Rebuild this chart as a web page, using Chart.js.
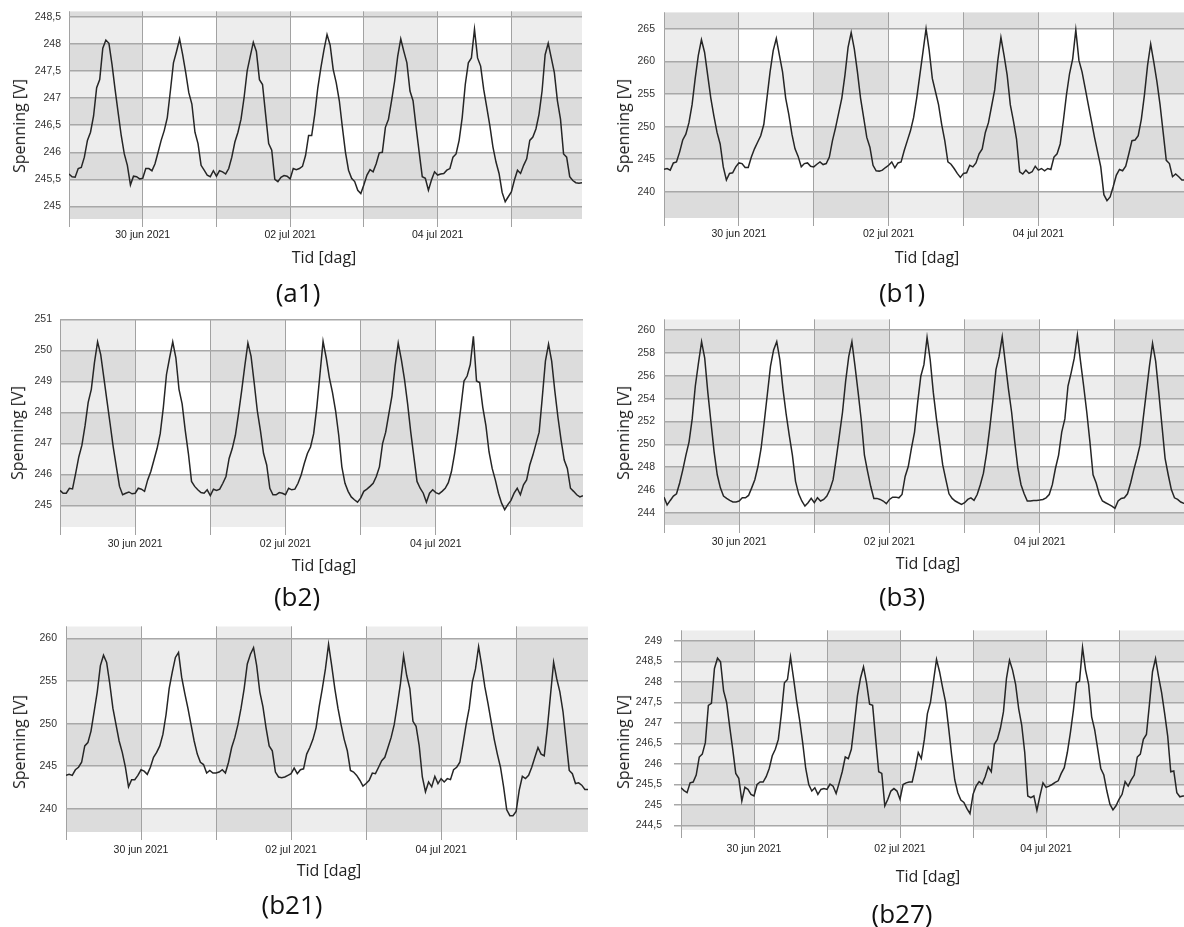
<!DOCTYPE html>
<html><head><meta charset="utf-8">
<script src="https://cdn.jsdelivr.net/npm/chart.js@4.4.1/dist/chart.umd.min.js"></script>
<style>
html,body{margin:0;padding:0;background:#fff;width:1184px;height:927px;overflow:hidden;position:relative}
canvas{position:absolute}
.t{position:absolute;font-family:"Open Sans",sans-serif;color:#222;white-space:nowrap;transform:translate(-50%,-50%);line-height:1}
.yt{transform:translate(-50%,-50%) rotate(-90deg)}
.pl{font-size:26px;color:#111}
.at{font-size:16px}
</style></head><body>
<script>
// x axis: hours since 29 jun 2021 00:00 (one reading per hour)
const hours = [];
for (let h = 0; h < 168; h++) hours.push(h);
const dayLabels = ['', '30 jun 2021', '', '02 jul 2021', '', '04 jul 2021', ''];
const yTitle = 'Spenning [V]';
const xTitle = 'Tid [dag]';
const panelNames = ['(a1)', '(b1)', '(b2)', '(b3)', '(b21)', '(b27)'];

const a1 = [245.60,245.55,245.54,245.70,245.72,245.91,246.22,246.37,246.67,247.19,247.34,247.92,248.07,248.01,247.62,247.16,246.73,246.31,245.97,245.76,245.40,245.56,245.55,245.51,
245.52,245.70,245.70,245.66,245.79,246.00,246.22,246.40,246.64,247.13,247.65,247.86,248.09,247.80,247.47,247.10,246.89,246.37,246.16,245.76,245.67,245.58,245.55,245.66,
245.56,245.66,245.64,245.60,245.70,245.91,246.19,246.37,246.61,247.01,247.50,247.77,248.03,247.86,247.34,247.25,246.70,246.16,246.04,245.50,245.46,245.54,245.57,245.56,
245.51,245.70,245.68,245.70,245.74,245.94,246.31,246.31,246.70,247.19,247.56,247.89,248.17,247.98,247.53,247.28,246.95,246.46,246.00,245.67,245.52,245.46,245.30,245.24,
245.40,245.58,245.68,245.64,245.79,245.99,246.00,246.46,246.61,246.95,247.31,247.77,248.09,247.86,247.65,247.13,246.95,246.46,246.00,245.55,245.52,245.30,245.49,245.64,
245.58,245.60,245.61,245.67,245.70,245.91,245.97,246.22,246.64,247.25,247.65,247.74,248.27,247.74,247.59,247.16,246.83,246.49,246.10,245.82,245.61,245.26,245.09,245.18,
245.27,245.49,245.67,245.61,245.76,245.88,246.22,246.28,246.43,246.70,247.13,247.80,248.01,247.74,247.47,246.95,246.61,245.97,245.91,245.55,245.48,245.44,245.43,245.44];

const b1 = [243.47,243.57,243.32,244.43,244.58,246.09,247.95,248.85,250.61,253.38,257.40,260.93,263.34,261.43,257.91,254.39,251.62,249.11,247.34,243.82,241.81,242.82,242.92,243.82,
244.43,244.33,243.72,243.72,245.33,246.59,247.60,248.60,250.36,254.39,258.41,261.68,263.54,260.93,258.41,254.39,251.87,248.85,246.59,245.43,243.82,244.33,244.43,243.92,
243.82,244.23,244.58,244.18,244.33,245.33,247.85,249.86,252.12,254.39,257.91,262.18,264.45,261.93,258.41,254.39,251.37,248.35,246.84,244.07,243.22,243.17,243.32,243.72,
244.07,244.58,243.67,244.43,244.58,246.34,247.85,249.36,251.37,254.39,257.91,261.43,265.05,261.70,257.40,255.39,253.38,250.36,247.85,244.58,244.23,243.57,242.82,242.21,
242.82,242.92,244.07,243.82,244.43,245.83,246.59,249.11,250.61,253.13,255.64,260.17,263.69,260.93,257.91,253.38,250.87,248.10,243.07,242.72,243.32,242.82,243.07,243.92,
243.32,243.57,243.22,243.57,243.42,245.33,245.83,247.34,250.87,254.89,258.16,260.42,264.85,260.17,258.41,255.90,253.38,250.87,248.35,246.09,243.82,239.55,238.64,239.20,
240.80,242.57,243.42,243.22,243.92,245.83,247.85,247.95,248.60,251.12,254.89,259.42,262.69,259.92,256.90,253.38,249.11,244.83,244.33,242.31,242.72,242.31,241.81,241.81];

const b2 = [245.48,245.39,245.39,245.55,245.53,246.03,246.56,246.94,247.57,248.32,248.74,249.60,250.27,249.86,249.12,248.37,247.63,246.88,246.24,245.61,245.34,245.39,245.43,245.37,
245.39,245.55,245.52,245.45,245.82,246.09,246.46,246.83,247.31,248.16,249.22,249.76,250.27,249.76,248.74,248.27,247.41,246.67,245.77,245.61,245.50,245.41,245.39,245.50,
245.31,245.52,245.48,245.52,245.71,245.93,246.51,246.83,247.26,247.95,248.69,249.49,250.23,249.81,248.96,248.05,247.41,246.67,246.30,245.55,245.34,245.34,245.41,245.39,
245.34,245.55,245.50,245.52,245.71,245.98,246.35,246.67,246.88,247.31,248.16,249.22,250.29,249.76,249.12,248.64,248.05,247.26,246.24,245.71,245.45,245.27,245.18,245.10,
245.23,245.45,245.52,245.61,245.71,245.93,246.24,246.99,247.36,247.95,248.53,249.49,250.23,249.70,249.06,248.27,247.36,246.56,245.77,245.55,245.39,245.10,245.39,245.50,
245.41,245.37,245.45,245.55,245.73,246.09,246.67,247.36,248.16,249.01,249.17,249.54,250.45,249.01,248.96,248.16,247.57,246.72,246.19,245.82,245.39,245.07,244.86,245.02,
245.16,245.39,245.55,245.34,245.66,245.82,246.30,246.62,246.99,247.36,248.48,249.65,250.20,249.65,248.69,247.84,247.10,246.46,246.19,245.55,245.45,245.34,245.27,245.31];

const b3 = [245.38,244.69,245.09,245.47,245.67,246.62,247.77,249.06,250.22,252.23,255.11,257.12,258.99,257.55,254.53,251.94,249.35,247.34,246.19,245.47,245.27,245.09,244.95,244.95,
245.04,245.32,245.32,245.53,246.19,246.91,248.06,249.64,251.94,254.39,256.83,258.27,258.99,257.41,254.82,252.66,250.79,249.06,246.76,245.67,245.04,244.60,244.89,245.27,
244.89,245.32,245.04,245.18,245.47,246.04,246.91,248.78,250.79,252.81,255.54,257.70,258.99,256.83,254.53,252.09,249.06,247.63,246.33,245.27,245.27,245.18,245.04,244.81,
245.18,245.38,245.38,245.32,245.61,247.19,248.06,249.64,251.08,253.67,255.97,256.98,259.37,257.41,254.53,252.23,250.22,248.20,246.91,245.67,245.27,245.04,244.89,244.75,
244.89,245.18,245.32,245.09,245.61,246.47,247.48,249.21,251.37,253.81,256.55,257.70,259.42,257.12,254.82,252.81,250.22,247.91,246.47,245.67,245.04,245.04,245.09,245.09,
245.12,245.18,245.32,245.61,246.47,247.91,249.06,251.08,252.23,255.11,256.26,257.55,259.57,257.27,255.11,252.81,250.22,247.34,246.62,245.61,245.04,244.89,244.75,244.60,
244.40,245.04,245.27,245.32,245.67,246.62,247.77,248.78,249.93,252.23,254.53,256.83,258.85,257.27,254.53,251.65,248.78,247.34,246.04,245.32,245.18,244.95,244.83,244.75];

const b21 = [243.92,244.04,243.92,244.58,244.88,245.46,247.38,247.77,249.12,251.42,253.73,256.81,258.04,257.19,254.69,251.81,249.88,247.96,246.62,244.88,242.58,243.42,243.42,243.92,
244.58,244.42,244.04,244.88,246.04,246.62,247.38,248.73,251.04,254.12,256.04,257.77,258.35,255.46,253.54,251.81,249.88,247.96,246.42,245.46,245.19,244.19,244.50,244.19,
244.19,244.31,244.58,244.19,245.46,247.19,248.35,249.88,251.81,254.12,257.00,258.15,258.92,256.81,253.73,252.00,249.50,247.38,246.81,244.31,243.73,243.65,243.73,243.92,
244.12,244.77,244.12,244.58,244.69,246.42,247.19,248.15,249.50,252.00,254.12,256.42,259.31,256.81,254.12,251.81,249.88,248.15,246.81,244.50,244.31,243.92,243.35,242.65,
242.96,243.35,244.19,244.12,244.88,245.65,246.04,247.19,248.35,249.88,252.19,254.69,257.96,255.65,254.12,250.27,249.69,247.38,243.73,242.00,243.15,242.58,243.81,242.96,
243.54,243.15,243.54,243.42,244.58,244.88,245.46,247.58,249.88,251.81,254.88,256.42,259.04,256.81,254.31,252.38,250.27,248.15,246.42,244.88,242.58,239.88,239.19,239.19,
239.69,242.19,243.81,243.54,243.92,244.88,246.04,247.19,246.42,246.23,249.50,253.35,257.19,255.27,253.73,251.42,247.96,244.50,244.12,242.96,243.04,242.77,242.27,242.27];

const b27 = [245.42,245.35,245.30,245.54,245.56,245.73,246.17,246.24,246.52,247.43,247.48,248.33,248.58,248.49,247.78,247.50,246.91,246.36,245.77,245.65,245.10,245.43,245.38,245.26,
245.22,245.50,245.56,245.56,245.69,245.89,246.20,246.36,246.60,247.23,247.98,248.06,248.61,248.09,247.54,247.07,246.52,245.89,245.50,245.34,245.42,245.26,245.38,245.40,
245.38,245.51,245.46,245.28,245.54,245.81,246.17,246.13,246.36,246.99,247.66,248.09,248.37,247.98,247.46,247.43,246.60,245.81,245.77,244.98,245.14,245.34,245.40,245.34,
245.14,245.50,245.54,245.56,245.56,245.89,246.28,246.13,246.60,247.23,247.50,248.02,248.55,248.25,247.86,247.50,246.87,246.20,245.61,245.30,245.12,245.06,244.91,244.79,
245.26,245.46,245.57,245.51,245.69,245.93,245.81,246.48,246.60,246.87,247.27,248.09,248.53,248.29,247.94,247.35,246.95,246.28,245.22,245.18,245.22,244.87,245.22,245.54,
245.43,245.46,245.50,245.55,245.59,245.77,245.91,246.28,246.76,247.31,247.98,248.02,248.84,248.29,247.94,247.15,246.83,246.36,245.89,245.73,245.34,245.02,244.88,244.98,
245.14,245.26,245.57,245.46,245.61,245.73,246.17,246.24,246.60,246.72,247.46,248.25,248.57,248.13,247.74,247.23,246.68,245.81,245.83,245.30,245.20,245.22,245.22,245.22];

// y-axis ranges and tick steps per panel
const yMin  = [244.77, 235.97, 244.30, 242.94, 237.27, 244.39];
const yMax  = [248.60, 267.56, 251.00, 260.95, 261.43, 249.26];
const yStep = [0.5, 5, 1, 2, 5, 0.5];
const series = [a1, b1, b2, b3, b21, b27];

// layout (page pixels) for each panel
const layout = [
  {L:68.6, T:9.3,   R:581.7,  B:219.3, ytl:false, ypad:8,  xpad:2,   yT:[19,126],  xT:[324,257], pl:[298,292]},
  {L:664.1,T:9.3,   R:1185.0, B:218.7, ytl:false, ypad:9,  xpad:2,   yT:[623,126], xT:[927,257], pl:[902,292]},
  {L:59.5, T:316.5, R:582.4,  B:526.0, ytl:false, ypad:8,  xpad:2.5, yT:[17,433],  xT:[324,565], pl:[297,596]},
  {L:663.8,T:315.7, R:1186.4, B:524.3, ytl:false, ypad:9,  xpad:3,   yT:[623,433], xT:[928,563], pl:[902,596]},
  {L:66.1, T:623.3, R:588.4,  B:832.7, ytl:false, ypad:9,  xpad:4,   yT:[19,742],  xT:[329,870], pl:[292,904]},
  {L:680.8,T:624.0, R:1188.8, B:830.0, ytl:true,  ypad:12, xpad:5,   yT:[623,742], xT:[928,876], pl:[902,913]}
];

const shadePlugin = {
  id: 'shade',
  beforeDraw(chart, args, opts) {
    const {ctx, chartArea: a, scales: {x, y}} = chart;
    const step = opts.step;
    ctx.save();
    ctx.beginPath();
    ctx.rect(a.left, a.top, a.right - a.left, a.bottom - a.top);
    ctx.clip();
    ctx.fillStyle = '#ffffff';
    ctx.fillRect(a.left, a.top, a.right - a.left, a.bottom - a.top);
    ctx.fillStyle = 'rgba(0,0,0,0.072)';
    for (let d = 0; d < 7; d += 2) {
      const x0 = x.getPixelForValue(d * 24), x1 = x.getPixelForValue((d + 1) * 24);
      ctx.fillRect(x0, a.top, x1 - x0, a.bottom - a.top);
    }
    for (let v = Math.floor(y.min / step) * step; v < y.max; v += step) {
      if (Math.round(v / step) % 2 === 1) {
        const y0 = y.getPixelForValue(v + step), y1 = y.getPixelForValue(v);
        ctx.fillRect(a.left, y0, a.right - a.left, y1 - y0);
      }
    }
    ctx.restore();
  }
};

function fmtV(v) {
  const r = Math.round(v * 10) / 10;
  return Number.isInteger(r) ? String(r) : String(r).replace('.', ',');
}

function addText(txt, cls, x, y) {
  const d = document.createElement('div');
  d.className = 't ' + cls;
  d.textContent = txt;
  d.style.left = x + 'px';
  d.style.top = y + 'px';
  document.body.appendChild(d);
}

const YW = 70, XH = 34, PT = 12, PR = 10;
layout.forEach((g, i) => {
  const c = document.createElement('canvas');
  const w = Math.round(g.R - g.L + YW + PR), h = Math.round(g.B - g.T + PT + XH);
  c.width = w; c.height = h;
  c.style.width = w + 'px'; c.style.height = h + 'px';
  c.style.left = (g.L - YW) + 'px';
  c.style.top = (g.T - PT) + 'px';
  document.body.appendChild(c);
  const vals = series[i];
  new Chart(c, {
    type: 'line',
    data: { datasets: [{
      data: hours.map((hr, k) => ({x: hr, y: vals[k]})),
      borderColor: '#262626', borderWidth: 1.5, pointRadius: 0, tension: 0, fill: false
    }]},
    options: {
      responsive: false, animation: false, devicePixelRatio: 1,
      layout: { padding: { top: PT, right: PR, left: 0, bottom: 0 } },
      plugins: { legend: {display: false}, tooltip: {enabled: false}, shade: {step: yStep[i]} },
      scales: {
        x: {
          type: 'linear', min: 0, max: 167,
          afterFit(s) { s.height = XH; },
          ticks: { stepSize: 24, includeBounds: false, autoSkip: false, maxRotation: 0, padding: g.xpad,
                   color: '#222', font: {family: 'Liberation Sans', size: 10.5},
                   callback: (v) => { const k = Math.round(v / 24); return dayLabels[k] !== undefined ? dayLabels[k] : ''; } },
          grid: { color: '#a2a2a2', lineWidth: 1, tickLength: 8, drawTicks: true },
          border: { display: false }
        },
        y: {
          min: yMin[i], max: yMax[i],
          afterFit(s) { s.width = YW; },
          ticks: { stepSize: yStep[i], includeBounds: false, padding: g.ypad,
                   color: '#333', font: {family: 'Liberation Sans', size: 10.5}, callback: fmtV },
          grid: { color: '#a8a8a8', lineWidth: 1.5, drawTicks: g.ytl, tickLength: 7 },
          border: { display: false }
        }
      }
    },
    plugins: [shadePlugin]
  });
  addText(yTitle, 'at yt', g.yT[0], g.yT[1]);
  addText(xTitle, 'at', g.xT[0], g.xT[1]);
  addText(panelNames[i], 'pl', g.pl[0], g.pl[1]);
});
</script>
</body></html>
